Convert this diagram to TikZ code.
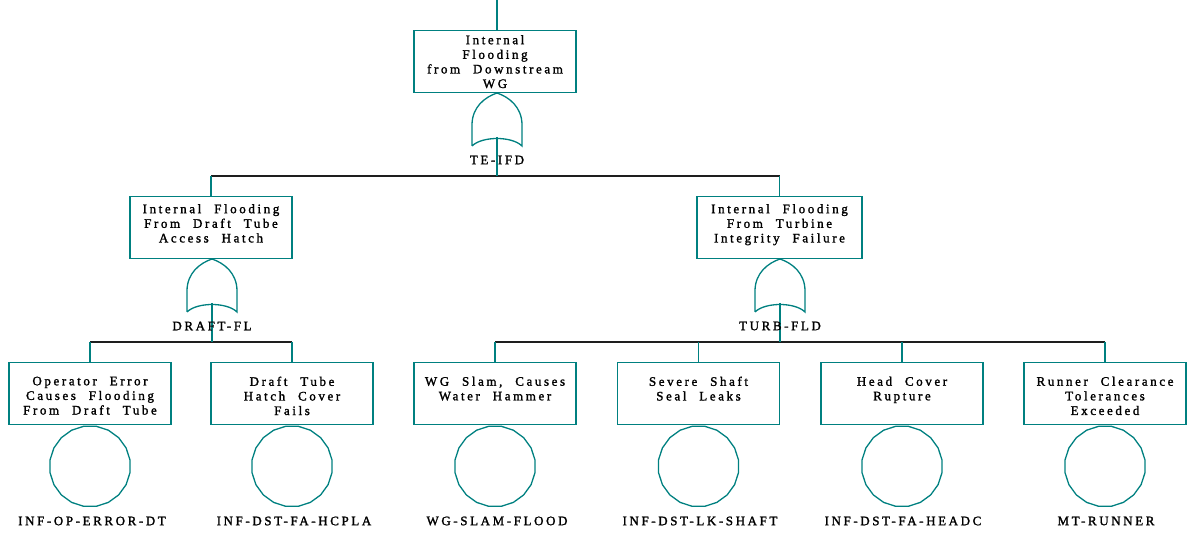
\documentclass[tikz,border=0pt]{standalone}
\usepackage{fontspec}
\setmainfont{Liberation Serif}[LetterSpace=20,WordSpace=2.2,FakeBold=1.6]
\usetikzlibrary{shapes.geometric,calc}
\definecolor{ftteal}{RGB}{0,128,128}
\definecolor{ftbar}{RGB}{30,30,30}

\tikzset{
  orgate/.pic={
    \draw[gateline] (-25,53) -- (-25,32)
      .. controls (-25,14) and (-12,4) .. (0,0)
      .. controls (12,4) and (25,14) .. (25,32) -- (25,53)
      .. controls (15,43) and (-15,43) .. (-25,53);
    \coordinate (-out) at (0,44);
  }
}

\begin{document}
\begin{tikzpicture}[x=1pt,y=-1pt,
  evbox/.style={draw=ftteal,line width=1.3pt,minimum width=162pt,minimum height=62pt,inner sep=0pt,anchor=north},
  evtext/.style={align=center,inner sep=0pt,font=\fontsize{13}{14.6}\selectfont,anchor=north},
  idlabel/.style={inner sep=0pt,font=\fontsize{13}{14.6}\selectfont},
  basic/.style={draw=ftteal,line width=1.3pt,regular polygon,regular polygon sides=20,minimum size=81pt,inner sep=0pt},
  tline/.style={draw=ftteal,line width=1.3pt},
  bline/.style={draw=ftbar,line width=1.1pt},
  gateline/.style={draw=ftteal,line width=1.3pt}
]
\useasboundingbox (0,0) rectangle (1197,534);

% top event
\coordinate (top) at (497,0);
\node[evbox] (e0) at (495,30) {};
\node[evtext] (e0t) at ($(e0.north)+(0,5)$) {Internal\\Flooding\\from Downstream\\WG};
\pic (g0) at (497,93) {orgate};

% intermediate events
\node[evbox] (e1) at (211,196) {};
\node[evtext] (e1t) at ($(e1.north)+(0,8)$) {Internal Flooding\\From Draft Tube\\Access Hatch};
\pic (g1) at (212,259) {orgate};

\node[evbox,minimum width=165pt] (e2) at (779.5,196) {};
\node[evtext] (e2t) at ($(e2.north)+(0,8)$) {Internal Flooding\\From Turbine\\Integrity Failure};
\pic (g2) at (780,259) {orgate};

% basic events
\node[evbox] (b1) at (90,362) {};
\node[evtext] (b1t) at ($(b1.north)+(0,14.5)$) {Operator Error\\Causes Flooding\\From Draft Tube};
\node[evbox] (b2) at (292,362) {};
\node[evtext] (b2t) at ($(b2.north)+(0,14.5)$) {Draft Tube\\Hatch Cover\\Fails};
\node[evbox] (b3) at (495,362) {};
\node[evtext] (b3t) at ($(b3.north)+(0,14.5)$) {WG Slam, Causes\\Water Hammer};
\node[evbox] (b4) at (698.5,362) {};
\node[evtext] (b4t) at ($(b4.north)+(0,14.5)$) {Severe Shaft\\Seal Leaks};
\node[evbox] (b5) at (902,362) {};
\node[evtext] (b5t) at ($(b5.north)+(0,14.5)$) {Head Cover\\Rupture};
\node[evbox] (b6) at (1105,362) {};
\node[evtext] (b6t) at ($(b6.north)+(0,14.5)$) {Runner Clearance\\Tolerances\\Exceeded};

% basic event circles
\foreach \i in {1,...,6} {
  \node[basic] (c\i) at ($(b\i.south)+(0,41)$) {};
}

% connectors
\coordinate (j0) at (497,176);
\coordinate (j1) at (212,342);
\coordinate (j2) at (780,342);

\draw[tline] (top) -- (top |- e0.north);
\draw[bline] (e1.north |- j0) -- (e2.north |- j0);
\draw[tline] (g0-out) -- (j0);
\draw[tline] (e1.north |- j0) -- (e1.north);
\draw[tline] (e2.north |- j0) -- (e2.north);

\draw[bline] (b1.north |- j1) -- (b2.north |- j1);
\draw[tline] (g1-out) -- (j1);
\draw[tline] (b1.north |- j1) -- (b1.north);
\draw[tline] (b2.north |- j1) -- (b2.north);

\draw[bline] (b3.north |- j2) -- (b6.north |- j2);
\draw[tline] (g2-out) -- (j2);
\foreach \i in {3,...,6} {
  \draw[tline] (b\i.north |- j2) -- (b\i.north);
}

% gate identifiers
\node[idlabel] (l0) at (497,160) {TE-IFD};
\node[idlabel] (l1) at (212,326) {DRAFT-FL};
\node[idlabel] (l2) at (780,326) {TURB-FLD};

% basic event identifiers
\node[idlabel] (n1) at (92,521) {INF-OP-ERROR-DT};
\node[idlabel] (n2) at (294,521) {INF-DST-FA-HCPLA};
\node[idlabel] (n3) at (497,521) {WG-SLAM-FLOOD};
\node[idlabel] (n4) at (700,521) {INF-DST-LK-SHAFT};
\node[idlabel] (n5) at (903,521) {INF-DST-FA-HEADC};
\node[idlabel] (n6) at (1106,521) {MT-RUNNER};
\end{tikzpicture}
\end{document}
